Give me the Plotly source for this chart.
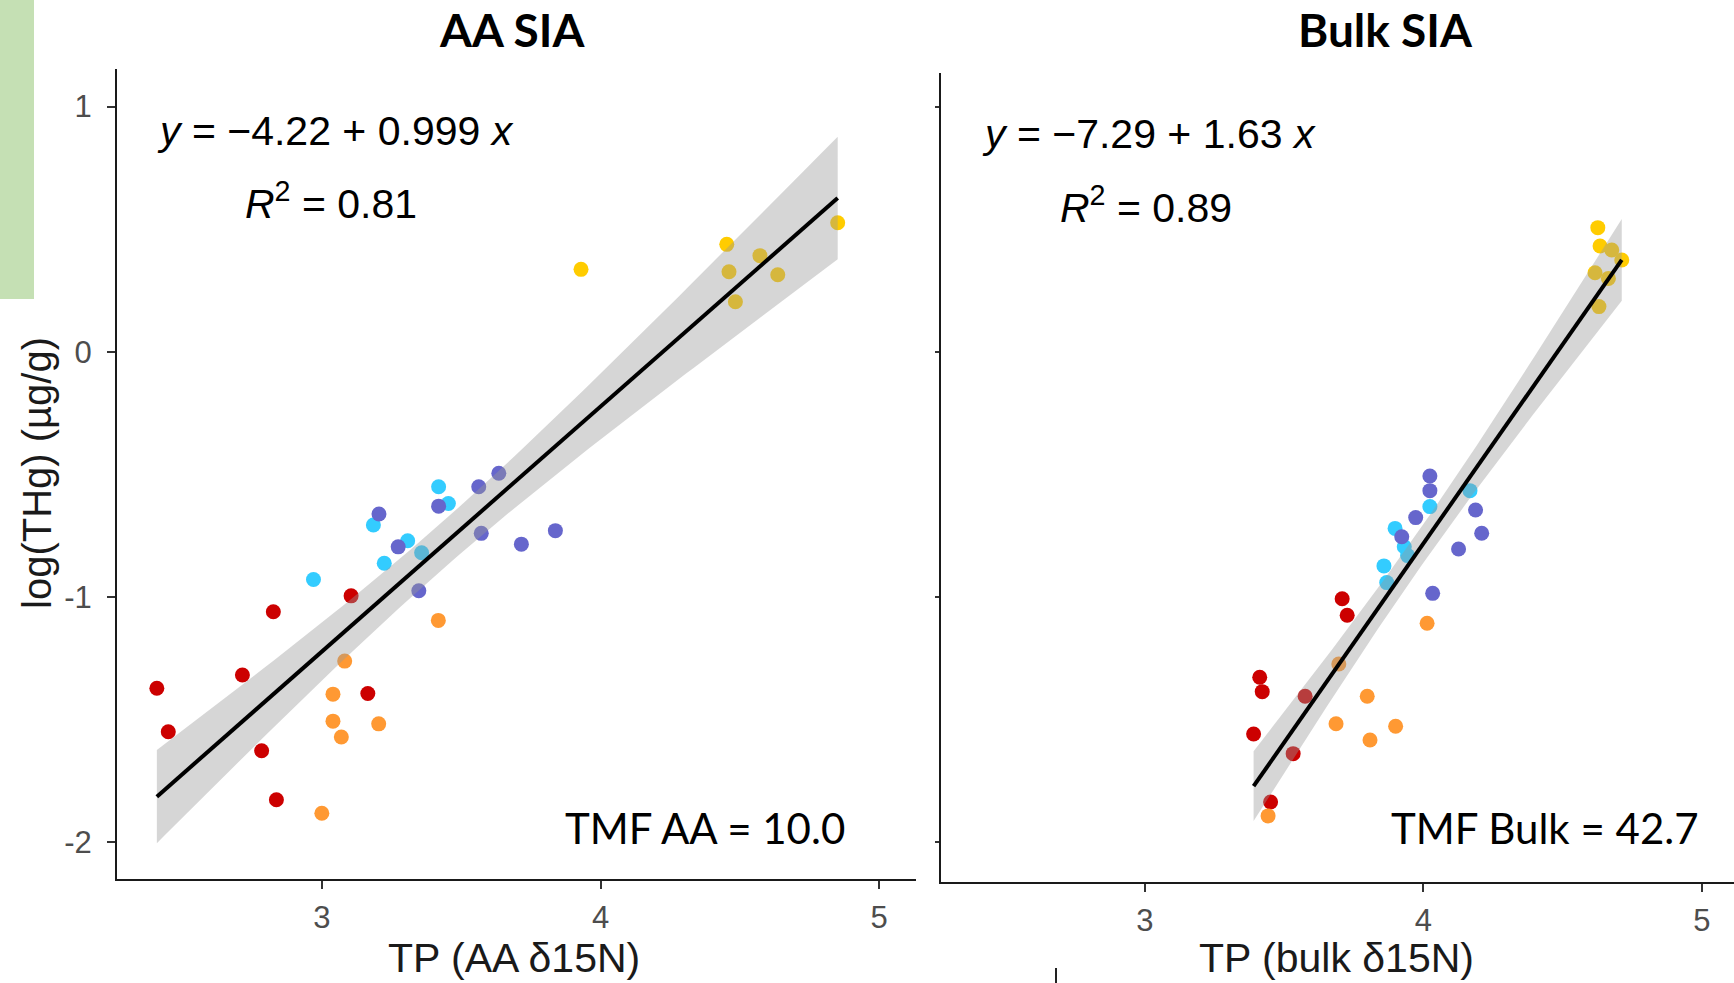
import numpy as np
import plotly.graph_objects as go

W, H = 1734, 983

# ---------------- data ----------------
GROUP_COLORS = ["#cc0000", "#ff9933", "#33ccff", "#6666cc", "#ffcc00"]

# AA SIA panel
AA_RED_X = [2.408, 2.449, 2.715, 2.826, 3.105, 2.784, 2.837, 3.165]
AA_RED_Y = [-1.373, -1.550, -1.319, -1.061, -0.996, -1.628, -1.828, -1.394]
AA_ORANGE_X = [3.082, 3.040, 3.040, 3.070, 3.204, 3.000, 3.418]
AA_ORANGE_Y = [-1.262, -1.397, -1.507, -1.572, -1.518, -1.883, -1.096]
AA_CYAN_X = [2.970, 3.185, 3.224, 3.308, 3.358, 3.419, 3.454]
AA_CYAN_Y = [-0.929, -0.707, -0.863, -0.771, -0.820, -0.551, -0.619]
AA_BLUE_X = [3.205, 3.274, 3.348, 3.419, 3.563, 3.635, 3.572, 3.716, 3.838]
AA_BLUE_Y = [-0.662, -0.796, -0.975, -0.630, -0.551, -0.496, -0.741, -0.785, -0.730]
AA_YELLOW_X = [3.930, 4.453, 4.461, 4.572, 4.636, 4.484, 4.851]
AA_YELLOW_Y = [0.336, 0.438, 0.326, 0.392, 0.314, 0.204, 0.526]

# Bulk SIA panel
BULK_RED_X = [3.708, 3.726, 3.412, 3.421, 3.575, 3.390, 3.532, 3.451]
BULK_RED_Y = [-1.008, -1.075, -1.328, -1.387, -1.406, -1.560, -1.640, -1.837]
BULK_ORANGE_X = [4.013, 3.696, 3.798, 3.686, 3.900, 3.808, 3.442]
BULK_ORANGE_Y = [-1.108, -1.274, -1.406, -1.518, -1.528, -1.584, -1.894]
BULK_CYAN_X = [4.023, 3.898, 3.931, 3.943, 3.858, 3.868, 4.167]
BULK_CYAN_Y = [-0.632, -0.721, -0.796, -0.832, -0.874, -0.942, -0.567]
BULK_BLUE_X = [4.023, 4.023, 3.972, 3.922, 4.033, 4.187, 4.209, 4.126]
BULK_BLUE_Y = [-0.507, -0.567, -0.677, -0.755, -0.986, -0.646, -0.741, -0.805]
BULK_YELLOW_X = [4.626, 4.634, 4.676, 4.712, 4.616, 4.664, 4.630]
BULK_YELLOW_Y = [0.506, 0.431, 0.415, 0.374, 0.322, 0.299, 0.184]

X_TICKS = [3, 4, 5]
Y_TICKS = [-2, -1, 0, 1]
Y_TICK_TEXT = ["-2", "-1", "0", "1"]

TITLES = ["AA SIA", "Bulk SIA"]
X_TITLES = ["TP (AA \u03b415N)", "TP (bulk \u03b415N)"]
Y_TITLE = "log(THg) (\u00b5g/g)"
EQ_TEXT = ["<i>y</i> = \u22124.22 + 0.999 <i>x</i>", "<i>y</i> = \u22127.29 + 1.63 <i>x</i>"]
R2_TEXT = ["<i>R</i><sup>2</sup> = 0.81", "<i>R</i><sup>2</sup> = 0.89"]
TMF_TEXT = ["TMF AA = 10.0", "TMF Bulk = 42.7"]

AA_GROUPS = [(AA_RED_X, AA_RED_Y), (AA_ORANGE_X, AA_ORANGE_Y), (AA_CYAN_X, AA_CYAN_Y),
             (AA_BLUE_X, AA_BLUE_Y), (AA_YELLOW_X, AA_YELLOW_Y)]
BULK_GROUPS = [(BULK_RED_X, BULK_RED_Y), (BULK_ORANGE_X, BULK_ORANGE_Y), (BULK_CYAN_X, BULK_CYAN_Y),
               (BULK_BLUE_X, BULK_BLUE_Y), (BULK_YELLOW_X, BULK_YELLOW_Y)]

ARIAL = "Liberation Sans, Arial, sans-serif"
CALIBRI = "Lato, Carlito, Calibri, sans-serif"


def px(x):
    return x / W


def py(y):
    return 1 - y / H


def fit_band(groups, t=2.03):
    x = np.concatenate([np.asarray(g[0], float) for g in groups])
    y = np.concatenate([np.asarray(g[1], float) for g in groups])
    b, a = np.polyfit(x, y, 1)
    n = len(x)
    res = y - (a + b * x)
    s = np.sqrt(np.sum(res ** 2) / (n - 2))
    xbar = x.mean()
    sxx = np.sum((x - xbar) ** 2)
    xs = np.linspace(x.min(), x.max(), 100)
    yhat = a + b * xs
    se = s * np.sqrt(1 / n + (xs - xbar) ** 2 / sxx)
    return xs, yhat, yhat - t * se, yhat + t * se


fig = go.Figure()

for groups, xa, ya in [(AA_GROUPS, "x", "y"), (BULK_GROUPS, "x2", "y2")]:
    for (gx, gy), col in zip(groups, GROUP_COLORS):
        fig.add_trace(go.Scatter(x=gx, y=gy, mode="markers", xaxis=xa, yaxis=ya,
                                 marker=dict(size=15, color=col, line=dict(width=0)),
                                 showlegend=False, hoverinfo="skip"))
    xs, yhat, lo, hi = fit_band(groups)
    fig.add_trace(go.Scatter(x=np.concatenate([xs, xs[::-1]]), y=np.concatenate([hi, lo[::-1]]),
                             mode="lines", fill="toself", fillcolor="rgba(153,153,153,0.4)",
                             line=dict(width=0), xaxis=xa, yaxis=ya, showlegend=False,
                             hoverinfo="skip"))
    fig.add_trace(go.Scatter(x=xs, y=yhat, mode="lines", line=dict(color="black", width=4),
                             xaxis=xa, yaxis=ya, showlegend=False, hoverinfo="skip"))

axis_common = dict(showgrid=False, zeroline=False, showline=True, linecolor="#1a1a1a",
                   linewidth=2, ticks="outside", tickcolor="#333333", tickwidth=2,
                   tickfont=dict(family=ARIAL, size=31, color="#4d4d4d"))

fig.update_layout(
    width=W, height=H, margin=dict(l=0, r=0, t=0, b=0),
    paper_bgcolor="white", plot_bgcolor="white",
    xaxis=dict(domain=[px(117), px(916)], range=[2.265, 5.132], tickvals=X_TICKS,
               ticklen=8, ticklabelstandoff=2, anchor="y", **axis_common),
    yaxis=dict(domain=[py(879), py(68.6)], range=[-2.151, 1.155], tickvals=Y_TICKS,
               ticktext=Y_TICK_TEXT, ticklen=8, ticklabelstandoff=9, anchor="x", **axis_common),
    xaxis2=dict(domain=[px(941), 1.0], range=[2.2675, 5.115], tickvals=X_TICKS,
                ticklen=8, ticklabelstandoff=2, anchor="y2", **axis_common),
    yaxis2=dict(domain=[py(882), py(73)], range=[-2.1636, 1.137], tickvals=Y_TICKS,
                ticklen=4, showticklabels=False, anchor="x2", **axis_common),
)

ann = []


def add_text(x, y, text, font, xanchor="center", angle=0):
    ann.append(dict(x=px(x), y=py(y), xref="paper", yref="paper", text=text, showarrow=False,
                    xanchor=xanchor, yanchor="middle", textangle=angle, font=font))


for cx, t in zip([512, 1385], TITLES):
    add_text(cx, 29, "<b>" + t + "</b>", dict(family=CALIBRI, size=46, color="black"))
for cx, t in zip([514, 1336], X_TITLES):
    add_text(cx, 958, t, dict(family=ARIAL, size=41, color="#1a1a1a"))
add_text(37, 473, Y_TITLE, dict(family=ARIAL, size=40, color="#1a1a1a"), angle=-90)
for lx, cy, t in zip([155, 980], [131, 134], EQ_TEXT):
    add_text(lx, cy, t, dict(family=ARIAL, size=41, color="black"), xanchor="left")
for lx, cy, t in zip([243, 1058], [201, 205], R2_TEXT):
    add_text(lx, cy, t, dict(family=ARIAL, size=41, color="black"), xanchor="left")
for rx, t in zip([847, 1701], TMF_TEXT):
    add_text(rx, 828, t, dict(family=CALIBRI, size=42, color="black"), xanchor="right")
fig.update_layout(annotations=ann)

# green side bar and small fragment at the bottom edge
fig.add_shape(type="rect", xref="paper", yref="paper", x0=0, x1=px(34), y0=py(299), y1=1,
              fillcolor="#c5e0b4", line=dict(width=0), layer="below")
fig.add_shape(type="line", xref="paper", yref="paper", x0=px(1056), x1=px(1056),
              y0=py(983), y1=py(968), line=dict(color="#222222", width=2))

fig.write_html("out.html", config={"displayModeBar": False},
               post_script="document.body.style.margin='0px';document.body.style.overflow='hidden';")
